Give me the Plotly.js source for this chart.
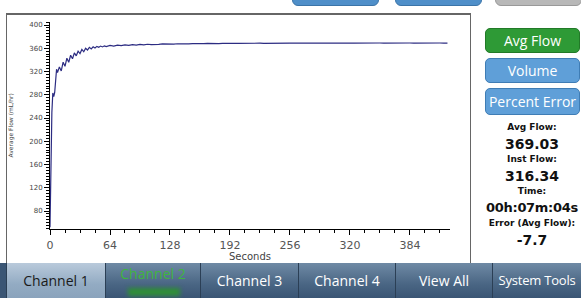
<!DOCTYPE html>
<html>
<head>
<meta charset="utf-8">
<script src="https://cdn.plot.ly/plotly-3.0.1.min.js"></script>
<style>
  html, body { margin:0; padding:0; background:#ffffff; }
  body { width:581px; height:298px; position:relative; overflow:hidden; font-family:"DejaVu Sans", sans-serif; }
  .abs { position:absolute; }
  #plot { position:absolute; left:0; top:0; width:581px; height:298px; }
  .topbtn { position:absolute; top:-8px; height:12px; border-radius:6px; }
  .sidebtn { position:absolute; left:485px; width:95px; border-radius:5px; color:#fff; text-align:center;
             font-family:"Open Sans","DejaVu Sans",sans-serif; font-size:14px; box-sizing:border-box; }
  .lbl { position:absolute; left:472px; width:120px; text-align:center; color:#111; }
  .tab { position:absolute; top:263px; height:35px; box-sizing:border-box; text-align:center;
         font-family:"Open Sans","Noto Sans",sans-serif; font-size:14px; line-height:35px; color:#fff;
         background:linear-gradient(#6f8aa5,#4a6684 60%,#3a5574); border-left:1px solid #2b3f55; white-space:nowrap; }
</style>
</head>
<body>
<!-- top partial buttons -->
<div class="topbtn" style="left:292px;width:85px;background:#4f8fc9;border:1px solid #3b74a8;"></div>
<div class="topbtn" style="left:395px;width:85px;background:#4f8fc9;border:1px solid #3b74a8;"></div>
<div class="topbtn" style="left:495px;width:85px;background:#b8b8b8;border:1px solid #999;"></div>
<!-- chart frame -->
<div class="abs" style="left:6px;top:13px;width:465px;height:250px;border-left:1px solid #666;border-top:2px solid #666;border-right:1px solid #666;box-sizing:border-box;"></div>
<div id="plot"></div>
<!-- right panel -->
<div class="sidebtn" style="top:28px;height:25px;line-height:24px;background:#2e9a36;border:1px solid #227a28;">Avg Flow</div>
<div class="sidebtn" style="top:58px;height:25px;line-height:24px;background:#5f9fd8;border:1px solid #3f7db5;">Volume</div>
<div class="sidebtn" style="top:88px;height:27px;line-height:26px;background:#5f9fd8;border:1px solid #3f7db5;">Percent Error</div>
<div class="lbl" style="top:122px;font-size:9px;font-weight:bold;">Avg Flow:</div>
<div class="lbl" style="top:136px;font-size:14px;font-weight:bold;">369.03</div>
<div class="lbl" style="top:154px;font-size:9px;font-weight:bold;">Inst Flow:</div>
<div class="lbl" style="top:168px;font-size:14px;font-weight:bold;">316.34</div>
<div class="lbl" style="top:186px;font-size:9px;font-weight:bold;">Time:</div>
<div class="lbl" style="top:200px;font-size:13px;font-weight:bold;letter-spacing:-0.3px;">00h:07m:04s</div>
<div class="lbl" style="top:218px;font-size:9px;font-weight:bold;">Error (Avg Flow):</div>
<div class="lbl" style="top:232px;font-size:14px;font-weight:bold;">-7.7</div>
<!-- bottom nav -->
<div class="abs" style="left:0;top:263px;width:581px;height:35px;background:#3a5574;"></div>
<div class="tab" style="left:6px;width:99px;color:#1a1a1a;background:linear-gradient(#b9cadb,#93abc3 60%,#8aa3bc);">Channel 1</div>
<div class="tab" style="left:105px;width:95px;color:#3fb53f;line-height:22px;">Channel 2<div style="position:absolute;left:22px;top:25px;width:52px;height:8px;background:#2f8f36;filter:blur(2px);"></div></div>
<div class="tab" style="left:200px;width:98px;">Channel 3</div>
<div class="tab" style="left:298px;width:97px;">Channel 4</div>
<div class="tab" style="left:395px;width:97px;">View All</div>
<div class="tab" style="left:492px;width:89px;font-size:13px;letter-spacing:-0.2px;">System Tools</div>
<script>
const timeSec = [0,1,2,3,4,5,6,7,8,10,12,14,16,18,20,22,24,26,28,30,32,34,36,38,40,42,44,46,48,50,52,54,56,58,60,
  64,68,72,76,80,84,88,92,96,100,104,108,112,116,120,124,128,132,136,140,144,148,152,156,160,164,168,172,176,180,184,188,192,196,200,
  204,208,212,216,220,224,228,232,236,240,244,248,252,256,260,264,268,272,276,280,284,288,292,296,300,304,308,312,316,320,
  324,328,332,336,340,344,348,352,356,360,364,368,372,376,380,384,388,392,396,400,404,408,412,416,420,424];
const avgFlow = [52,170,250,283,277,284,316,324,318,
  328,321,336,329,343,336,348,342,352,347,355,351,358,354,360,357,361.5,359,362.5,360.5,363.2,361.6,363.8,362.3,364.2,363,
  364.8,363.8,365.4,364.5,365.9,365.1,366.3,365.6,366.6,366,366.9,366.4,367.2,366.7,367.4,367,367.6,367.2,367.8,367.4,
  368,367.6,368.1,367.8,368.3,367.9,368.4,368,368.5,368.1,368.5,368.2,368.6,368.3,368.6,
  368.4,368.7,368.5,368.8,368.5,368.7,368.6,368.8,368.5,368.8,
  368.6,368.9,368.6,368.8,368.7,368.9,368.7,368.9,368.7,369.0,
  368.7,368.9,368.8,369.0,368.8,369.0,368.8,369.1,368.8,369.0,
  368.9,369.1,368.9,369.1,368.9,369.2,368.9,369.1,369.0,369.2,
  368.9,369.1,369.0,369.2,369.0,369.1,369.0,369.2,369.0,369.1,
  369.0,369.2,369.0,369.1,369.0,369.03];
const xTicks = [0,64,128,192,256,320,384];
const yTicks = [80,120,160,200,240,280,320,360,400];

const trace = {x: timeSec, y: avgFlow, type:'scatter', mode:'lines',
  line:{color:'#2c2c82', width:1.2}, hoverinfo:'skip'};

const layout = {
  width:581, height:298,
  margin:{l:50, r:131, t:22, b:69},
  paper_bgcolor:'rgba(0,0,0,0)', plot_bgcolor:'rgba(0,0,0,0)',
  showlegend:false,
  xaxis:{range:[0,426.7], tickmode:'array', tickvals:xTicks, ticktext:xTicks.map(String),
    showgrid:false, zeroline:false, showline:true, linecolor:'#000', linewidth:1,
    ticks:'outside', ticklen:5, tickcolor:'#000', ticklabelstandoff:1,
    minor:{dtick:16, tick0:0, ticks:'outside', ticklen:3, tickcolor:'#000', showgrid:false},
    tickfont:{family:'DejaVu Sans', size:11, color:'#555'}},
  yaxis:{range:[49.1,405.2], tickmode:'array', tickvals:yTicks, ticktext:yTicks.map(String),
    showgrid:false, zeroline:false, showline:true, linecolor:'#000', linewidth:1,
    ticks:'outside', ticklen:5, tickcolor:'#000',
    minor:{dtick:5, tick0:0, ticks:'outside', ticklen:3, tickcolor:'#000', showgrid:false},
    tickfont:{family:'DejaVu Sans', size:7, color:'#444'}},
  annotations:[
    {text:'Seconds', xref:'paper', yref:'paper', x:0.5, y:-0.133, xanchor:'center', yanchor:'middle',
     showarrow:false, font:{family:'DejaVu Sans', size:10, color:'#444'}},
    {text:'Average Flow (mL/hr)', xref:'paper', yref:'paper', x:-0.1, y:0.5, xanchor:'center', yanchor:'middle',
     textangle:-90, showarrow:false, font:{family:'DejaVu Sans', size:6, color:'#444'}}
  ]
};
Plotly.newPlot('plot', [trace], layout, {staticPlot:true, displayModeBar:false});
</script>
</body>
</html>
